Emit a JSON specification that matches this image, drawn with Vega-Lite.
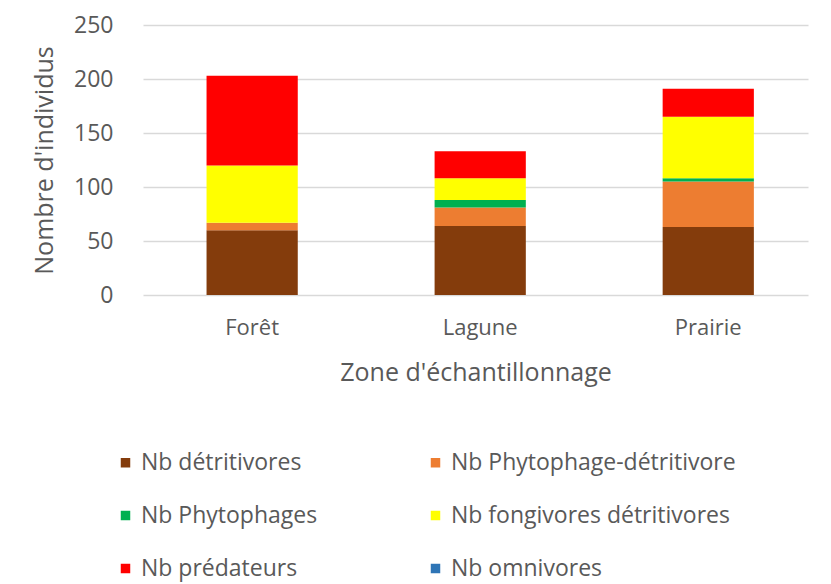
{
  "$schema": "https://vega.github.io/schema/vega-lite/v6.json",
  "width": 665,
  "height": 270,
  "autosize": {"type": "none"},
  "padding": {"left": 143, "top": 25, "right": 23, "bottom": 289},
  "background": "white",
  "config": {
    "view": {"stroke": null},
    "font": "Open Sans",
    "axis": {"labelColor": "#595959", "titleColor": "#595959", "labelFont": "Open Sans", "titleFont": "Open Sans", "titleFontWeight": "normal"},
    "legend": {"labelColor": "#595959", "labelFont": "Open Sans"}
  },
  "data": {
    "values": [
      {"zone": "Forêt", "groupe": "Nb détritivores", "rang": 1, "n": 60},
      {"zone": "Forêt", "groupe": "Nb Phytophage-détritivore", "rang": 2, "n": 7},
      {"zone": "Forêt", "groupe": "Nb Phytophages", "rang": 3, "n": 0},
      {"zone": "Forêt", "groupe": "Nb fongivores détritivores", "rang": 4, "n": 53},
      {"zone": "Forêt", "groupe": "Nb prédateurs", "rang": 5, "n": 83},
      {"zone": "Forêt", "groupe": "Nb omnivores", "rang": 6, "n": 0},
      {"zone": "Lagune", "groupe": "Nb détritivores", "rang": 1, "n": 64},
      {"zone": "Lagune", "groupe": "Nb Phytophage-détritivore", "rang": 2, "n": 17},
      {"zone": "Lagune", "groupe": "Nb Phytophages", "rang": 3, "n": 7},
      {"zone": "Lagune", "groupe": "Nb fongivores détritivores", "rang": 4, "n": 20},
      {"zone": "Lagune", "groupe": "Nb prédateurs", "rang": 5, "n": 25},
      {"zone": "Lagune", "groupe": "Nb omnivores", "rang": 6, "n": 0},
      {"zone": "Prairie", "groupe": "Nb détritivores", "rang": 1, "n": 63},
      {"zone": "Prairie", "groupe": "Nb Phytophage-détritivore", "rang": 2, "n": 42},
      {"zone": "Prairie", "groupe": "Nb Phytophages", "rang": 3, "n": 3},
      {"zone": "Prairie", "groupe": "Nb fongivores détritivores", "rang": 4, "n": 57},
      {"zone": "Prairie", "groupe": "Nb prédateurs", "rang": 5, "n": 26},
      {"zone": "Prairie", "groupe": "Nb omnivores", "rang": 6, "n": 0}
    ]
  },
  "mark": {"type": "bar"},
  "encoding": {
    "x": {
      "field": "zone", "type": "nominal", "sort": ["Forêt", "Lagune", "Prairie"],
      "scale": {"paddingInner": 0.6, "paddingOuter": 0.258, "align": 0.54},
      "axis": {"title": "Zone d'échantillonnage", "labelAngle": 0, "labelFontSize": 22, "titleFontSize": 25, "domain": false, "ticks": false, "labelPadding": 22, "titlePadding": 22}
    },
    "y": {
      "field": "n", "type": "quantitative", "aggregate": "sum",
      "scale": {"domain": [0, 250]},
      "axis": {"title": "Nombre d'individus", "values": [0, 50, 100, 150, 200, 250], "labelFontSize": 23, "titleFontSize": 25, "domain": false, "ticks": false, "labelPadding": 30, "titlePadding": 16, "gridColor": "#D9D9D9", "gridWidth": 1.5}
    },
    "color": {
      "field": "groupe", "type": "nominal",
      "sort": ["Nb détritivores", "Nb Phytophage-détritivore", "Nb Phytophages", "Nb fongivores détritivores", "Nb prédateurs", "Nb omnivores"],
      "scale": {
        "domain": ["Nb détritivores", "Nb Phytophage-détritivore", "Nb Phytophages", "Nb fongivores détritivores", "Nb prédateurs", "Nb omnivores"],
        "range": ["#843C0C", "#ED7D31", "#00B050", "#FFFF00", "#FF0000", "#2E75B6"]
      },
      "legend": {
        "title": null, "orient": "none", "legendX": -29, "legendY": 426, "columns": 2, "direction": "horizontal",
        "symbolType": "square", "symbolSize": 90, "labelFontSize": 23, "rowPadding": 29, "columnPadding": 106, "labelOffset": 4, "labelLimit": 400
      }
    },
    "order": {"field": "rang", "type": "quantitative", "sort": "ascending"}
  }
}
